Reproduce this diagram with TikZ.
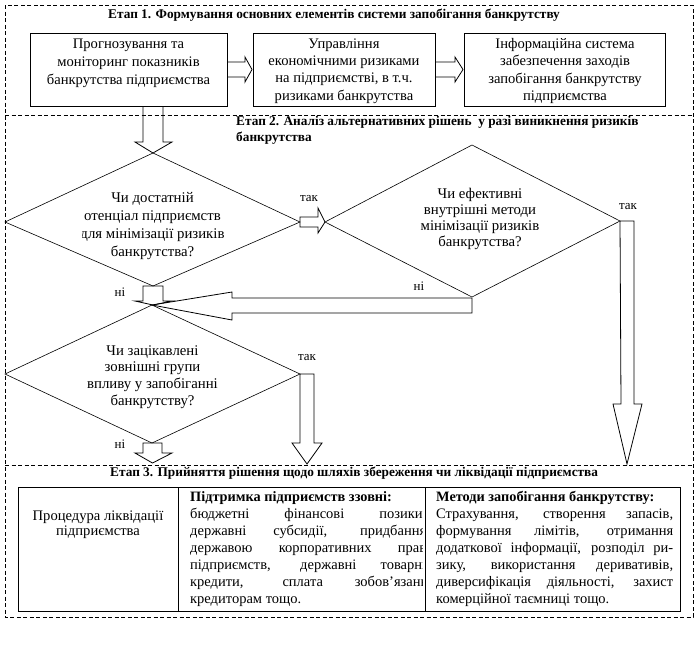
\documentclass[tikz,border=0pt]{standalone}
\usepackage{fontspec}
\setmainfont{Liberation Serif}
\begin{document}
\begin{tikzpicture}[x=1pt,y=-1pt,
  stage/.style={draw, line width=0.75pt, dash pattern=on 4pt off 2.5pt},
  boxst/.style={draw, line width=0.9pt, minimum width=#1, minimum height=73pt, inner sep=0pt},
  cell/.style={draw, line width=0.9pt, minimum width=#1, minimum height=124pt, inner sep=0pt},
  txt/.style={font=\fontsize{14.6}{#1}\selectfont, align=center, inner sep=0pt},
  dtxt/.style={font=\fontsize{14.8}{#1}\selectfont, align=center, inner sep=0pt},
  tbl/.style={font=\fontsize{14.5}{17}\selectfont, align=left, inner sep=0pt},
  hd/.style={font=\bfseries\fontsize{14.3}{17}\selectfont, inner sep=0pt},
  ttl/.style={font=\bfseries\fontsize{13.3}{16.5}\selectfont, align=left, inner sep=0pt},
  lbl/.style={font=\fontsize{13}{15}\selectfont, inner sep=0pt},
  blk/.style={draw, line width=0.8pt, line join=miter},
  dia/.style={draw, line width=0.6pt}]
\useasboundingbox (0,0) rectangle (696,665);

% stage frames
\draw[stage] (5,5) rectangle (693,617);
\draw[stage] (5,115) -- (693,115);
\draw[stage] (5,465) -- (693,465);

% titles
\node[ttl, anchor=west] (t1) at (108,15) {Етап 1. Формування основних елементів системи запобігання банкрутству};
\node[ttl, anchor=west] (t2) at (236,130.5) {Етап 2. Аналіз альтернативних рішень~ у разі виникнення ризиків\\банкрутства};
\node[ttl, anchor=west] (t3) at (110,473) {Етап 3. Прийняття рішення щодо шляхів збереження чи ліквідації підприємства};

% stage 1 boxes
\node[boxst=197pt] (b1) at (128.5,69.5) {};
\node[txt=18] (b1t) at (128.5,63.5) {Прогнозування та\\моніторинг показників\\банкрутства підприємства};
\node[boxst=182pt] (b2) at (344,69.5) {};
\node[txt=17.3] (b2t) at (344,71) {Управління\\економічними ризиками\\на підприємстві, в т.ч.\\ризиками банкрутства};
\node[boxst=201pt] (b3) at (564.5,69.5) {};
\node[txt=17.3] (b3t) at (565,71) {Інформаційна система\\забезпечення заходів\\запобігання банкрутству\\підприємства};

% block arrows stage 1
\draw[blk] (227,62) -- (245,62) -- (245,57) -- (252,69.5) -- (245,82) -- (245,77) -- (227,77);
\draw[blk] (435,62) -- (455,62) -- (455,57) -- (463,69.5) -- (455,82) -- (455,77) -- (435,77);
\draw[blk] (143,106) -- (143,142) -- (135,142) -- (153,153) -- (172,142) -- (163,142) -- (163,106);

% diamonds
\coordinate (d1n) at (153,153); \coordinate (d1e) at (300,222);
\coordinate (d1s) at (153,286); \coordinate (d1w) at (5,222);
\draw[dia] (d1n) -- (d1e) -- (d1s) -- (d1w) -- cycle;
\coordinate (d2n) at (472,145); \coordinate (d2e) at (620,221);
\coordinate (d2s) at (472,297); \coordinate (d2w) at (325,222);
\draw[dia] (d2n) -- (d2e) -- (d2s) -- (d2w) -- cycle;
\coordinate (d3n) at (152,305); \coordinate (d3e) at (300,374);
\coordinate (d3s) at (152,443); \coordinate (d3w) at (5,374);
\draw[dia] (d3n) -- (d3e) -- (d3s) -- (d3w) -- cycle;

\begin{scope}
\clip (82,180) rectangle (223,270);
\node[dtxt=18.3] (d1t) at (152.5,226) {Чи достатній\\отенціал підприємств\\для мінімізації ризиків\\банкрутства?};
\end{scope}
\node[dtxt=16] (d2t) at (480,219) {Чи ефективні\\внутрішні методи\\мінімізації ризиків\\банкрутства?};
\node[dtxt=16.7] (d3t) at (152.5,377) {Чи зацікавлені\\зовнішні групи\\впливу у запобіганні\\банкрутству?};

% block arrows stage 2
\draw[blk] (d1e) ++(0,-5) -- (318,217) -- (318,208) -- (d2w) -- (318,233) -- (318,227) -- (300,227) -- cycle;
\draw[blk] (d2e) -- (634,221) -- (634,404) -- (642,404) -- (627,464) -- (613,404) -- (621,404) -- cycle;
\draw[blk] (d2s) ++(0,1) -- (232,298) -- (232,292) -- (d3n) -- (232,320) -- (232,313) -- (472,313) -- cycle;
\draw[blk] (143,286) -- (163,286) -- (163,301) -- (172,301) -- (153,305) -- (135,301) -- (143,301) -- cycle;
\draw[blk] (d3e) -- (314,374) -- (314,443) -- (322,443) -- (307,464) -- (292,443) -- (300,443) -- cycle;
\draw[blk] (143,443) -- (162,443) -- (162,453) -- (172,453) -- (152.5,463) -- (135,453) -- (143,453) -- cycle;

% labels
\node[lbl] (y1) at (309,199) {так};
\node[lbl] (n1) at (120,292) {ні};
\node[lbl] (y2) at (628,207) {так};
\node[lbl] (n2) at (419,286) {ні};
\node[lbl] (y3) at (307,358) {так};
\node[lbl] (n3) at (120,444) {ні};

% stage 3 table
\node[cell=160pt] (c1) at (98,549) {};
\node[cell=247pt] (c2) at (301.5,549) {};
\node[cell=255pt] (c3) at (552.5,549) {};
\node[txt=15.5] (c1t) at (98,524.5) {Процедура ліквідації\\підприємства};
\node[hd, anchor=west] (c2h) at (190,498) {Підтримка підприємств ззовні:};
\begin{scope}
\clip (178,487) rectangle (422,611);
\node[tbl, anchor=west] (c2b) at (190,557.5) {\makebox[236pt][s]{бюджетні фінансові позики,}\\
\makebox[236pt][s]{державні субсидії, придбання}\\
\makebox[236pt][s]{державою корпоративних прав}\\
\makebox[236pt][s]{підприємств, державні товарні}\\
\makebox[237pt][s]{кредити, сплата зобов’язань}\\
кредиторам тощо.};
\end{scope}
\node[hd, anchor=west] (c3h) at (436,498) {Методи запобігання банкрутству:};
\node[tbl, anchor=west] (c3b) at (436,557.5) {\makebox[237pt][s]{Страхування, створення запасів,}\\
\makebox[237pt][s]{формування лімітів, отримання}\\
\makebox[237pt][s]{додаткової інформації, розподіл ри-}\\
\makebox[237pt][s]{зику, використання деривативів,}\\
\makebox[237pt][s]{диверсифікація діяльності, захист}\\
комерційної таємниці тощо.};
\end{tikzpicture}
\end{document}
